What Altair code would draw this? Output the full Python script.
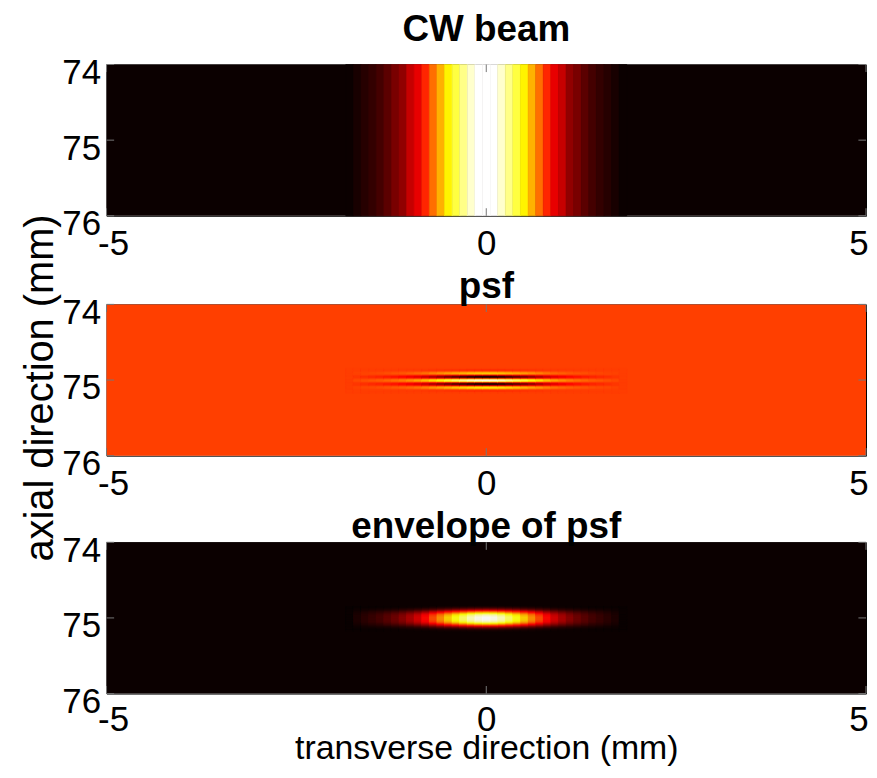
import altair as alt
import pandas as pd

# ---------------- data ----------------
X_DOMAIN = [-5, 5]
Y_DOMAIN = [74, 76]
x_tick_values = [-5, 0, 5]
y_tick_values = [74, 75, 76]

panel_titles = ["CW beam", "psf", "envelope of psf"]
x_title = "transverse direction (mm)"
y_title = "axial direction (mm)"

# lateral image columns (mm), 0.1 mm apart
lateral_mm = [-1.8, -1.7, -1.6, -1.5, -1.4, -1.3, -1.2, -1.1, -1.0, -0.9,
              -0.8, -0.7, -0.6, -0.5, -0.4, -0.3, -0.2, -0.1, 0.0, 0.1,
              0.2, 0.3, 0.4, 0.5, 0.6, 0.7, 0.8, 0.9, 1.0, 1.1,
              1.2, 1.3, 1.4, 1.5, 1.6, 1.7, 1.8]
col_width_mm = 0.1

# CW beam intensity per column (normalised)
cw_beam = [0.0, 0.02, 0.04, 0.06, 0.085, 0.12, 0.165, 0.2, 0.28, 0.33,
           0.42, 0.53, 0.63, 0.73, 0.81, 0.88, 0.95, 1.0, 1.0, 1.0,
           0.95, 0.88, 0.81, 0.73, 0.63, 0.53, 0.42, 0.33, 0.28, 0.2,
           0.165, 0.12, 0.085, 0.06, 0.04, 0.02, 0.0]

# lateral profile of the pulse-echo psf / envelope
psf_lateral = [0.0, 0.03, 0.05, 0.07, 0.09, 0.12, 0.15, 0.19, 0.24, 0.30,
               0.38, 0.48, 0.58, 0.68, 0.77, 0.85, 0.93, 0.98, 1.0, 0.98,
               0.93, 0.85, 0.77, 0.68, 0.58, 0.48, 0.38, 0.30, 0.24, 0.19,
               0.15, 0.12, 0.09, 0.07, 0.05, 0.03, 0.0]

# axial rows (mm offset from the focus), 0.01 mm apart
axial_center_mm = 75.01
axial_offset_mm = [-0.16, -0.15, -0.14, -0.13, -0.12, -0.11, -0.10, -0.09, -0.08, -0.07,
                   -0.06, -0.05, -0.04, -0.03, -0.02, -0.01, 0.0, 0.01, 0.02, 0.03,
                   0.04, 0.05, 0.06, 0.07, 0.08, 0.09, 0.10, 0.11, 0.12, 0.13,
                   0.14, 0.15, 0.16]
row_height_mm = 0.01

# RF (psf) axial profile
psf_axial = [0.00, -0.03, -0.06, -0.04, 0.08, 0.25, 0.40, 0.40, 0.22, -0.20,
             -0.62, -0.85, -0.80, -0.35, 0.35, 0.85, 1.00, 0.85, 0.35, -0.35,
             -0.80, -0.85, -0.62, -0.20, 0.25, 0.48, 0.50, 0.32, 0.10, -0.04,
             -0.06, -0.03, 0.00]

# envelope axial profile
env_axial = [0.02, 0.05, 0.08, 0.13, 0.20, 0.29, 0.40, 0.51, 0.62, 0.73,
             0.82, 0.89, 0.94, 0.97, 0.99, 1.0, 1.0, 1.0, 0.99, 0.97,
             0.94, 0.89, 0.82, 0.73, 0.62, 0.51, 0.40, 0.29, 0.20, 0.13,
             0.08, 0.05, 0.02]

# MATLAB "hot" colormap anchor colours
HOT_COLORS = ["#0b0000", "#ff0000", "#ffff00", "#ffffff"]
HOT_STOPS = [0.0, 0.365, 0.746, 1.0]

# ---------------- style ----------------
FONT = "Liberation Sans"
FS_TICK = 35
FS_TITLE = 37
FS_YLABEL = 40
FS_XLABEL = 34
W, H = 763, 152
TICK_LEN = 0.1


def cw_frame():
    rows = []
    for c, v in zip(lateral_mm, cw_beam):
        rows.append(dict(x0=c - col_width_mm / 2, x1=c + col_width_mm / 2,
                         y0=Y_DOMAIN[0], y1=Y_DOMAIN[1], v=v))
    return pd.DataFrame(rows)


def grid_frame(axial):
    rows = []
    for c, lv in zip(lateral_mm, psf_lateral):
        for o, av in zip(axial_offset_mm, axial):
            z = axial_center_mm + o
            rows.append(dict(x0=c - col_width_mm / 2, x1=c + col_width_mm / 2,
                             y0=z - row_height_mm / 2, y1=z + row_height_mm / 2,
                             v=lv * av))
    return pd.DataFrame(rows)


def tick_frame():
    rows = []
    for xv in x_tick_values:
        rows.append(dict(x=xv, x2=xv, y=Y_DOMAIN[0], y2=Y_DOMAIN[0] + TICK_LEN))
        rows.append(dict(x=xv, x2=xv, y=Y_DOMAIN[1], y2=Y_DOMAIN[1] - TICK_LEN))
    for yv in y_tick_values:
        rows.append(dict(x=X_DOMAIN[0], x2=X_DOMAIN[0] + TICK_LEN, y=yv, y2=yv))
        rows.append(dict(x=X_DOMAIN[1], x2=X_DOMAIN[1] - TICK_LEN, y=yv, y2=yv))
    return pd.DataFrame(rows)


X_LABEL_ALIGN = {"condition": [{"test": "datum.value < 0", "value": "left"},
                               {"test": "datum.value > 0", "value": "right"}],
                 "value": "center"}
X_LABEL_OFFSET = {"condition": [{"test": "datum.value < 0", "value": -9},
                                {"test": "datum.value > 0", "value": 2}],
                  "value": 0}


def panel(df, title, title_offset, show_x_title):
    vmin, vmax = float(df["v"].min()), float(df["v"].max())
    stops = [vmin + s * (vmax - vmin) for s in HOT_STOPS]
    cscale = alt.Scale(domain=stops, range=HOT_COLORS, interpolate="rgb", clamp=True)
    color = alt.Color("v:Q", legend=None, scale=cscale)
    stroke = alt.Stroke("v:Q", legend=None, scale=cscale)
    xscale = alt.Scale(domain=X_DOMAIN, nice=False, zero=False)
    yscale = alt.Scale(domain=Y_DOMAIN, nice=False, zero=False, reverse=True)
    common_x = dict(values=x_tick_values, labelFlush=False, labelOverlap=False,
                    labelAlign=X_LABEL_ALIGN, labelOffset=X_LABEL_OFFSET,
                    labelExpr="'' + datum.value")
    if show_x_title:
        xaxis = alt.Axis(title=x_title, labelPadding=9, titleFontSize=FS_XLABEL,
                         titleBaseline="alphabetic", titleY=65,
                         titleAnchor="middle", **common_x)
    else:
        xaxis = alt.Axis(title=None, labelPadding=11, **common_x)
    yaxis = alt.Axis(values=y_tick_values, title=None, labelPadding=6,
                     labelOffset=8, labelFlush=False, labelOverlap=False,
                     labelExpr="'' + datum.value")

    bg = pd.DataFrame([dict(x0=X_DOMAIN[0], x1=X_DOMAIN[1], y0=Y_DOMAIN[0],
                            y1=Y_DOMAIN[1], v=0.0)])
    base_bg = alt.Chart(bg).mark_rect().encode(
        x=alt.X("x0:Q", scale=xscale, axis=xaxis), x2="x1:Q",
        y=alt.Y("y0:Q", scale=yscale, axis=yaxis), y2="y1:Q",
        color=color)
    cells = alt.Chart(df).mark_rect(strokeWidth=0.6).encode(
        x=alt.X("x0:Q", scale=xscale, axis=xaxis), x2="x1:Q",
        y=alt.Y("y0:Q", scale=yscale, axis=yaxis), y2="y1:Q",
        color=color, stroke=stroke)
    ticks = alt.Chart(tick_frame()).mark_rule(color="#777", strokeWidth=1).encode(
        x=alt.X("x:Q", scale=xscale, axis=xaxis), x2="x2:Q",
        y=alt.Y("y:Q", scale=yscale, axis=yaxis), y2="y2:Q")
    return alt.layer(base_bg, cells, ticks).properties(
        width=W, height=H,
        title=alt.TitleParams(text=title, fontSize=FS_TITLE, fontWeight="bold",
                              font=FONT, anchor="middle", offset=title_offset,
                              color="black"))


p1 = panel(cw_frame(), panel_titles[0], 7, False)
p2 = panel(grid_frame(psf_axial), panel_titles[1], -11, False)
p3 = panel(grid_frame(env_axial), panel_titles[2], -13, True)

chart = alt.vconcat(p1, p2, p3, spacing=5).resolve_scale(
    color="independent", stroke="independent"
).properties(
    padding={"left": 13, "top": 0, "right": 0, "bottom": 0},
    title=alt.TitleParams(text=y_title, orient="left", anchor="middle",
                          fontSize=FS_YLABEL, fontWeight="normal", font=FONT,
                          color="black", offset=0)
).configure_axis(
    labelFont=FONT, titleFont=FONT, labelFontSize=FS_TICK, titleFontSize=FS_XLABEL,
    titleFontWeight="normal", labelColor="black", titleColor="black",
    ticks=False, domain=False, grid=False
).configure_view(
    stroke="black", strokeWidth=1
)

chart.save("out.html", embed_options={"renderer": "svg", "actions": False})
